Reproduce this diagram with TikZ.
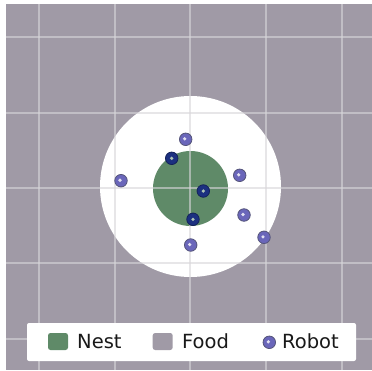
\documentclass[tikz,border=0pt]{standalone}
\usepackage{fontspec}
\setmainfont{DejaVu Sans}
\definecolor{foodc}{HTML}{A09AA6}
\definecolor{gridc}{HTML}{D8D6DA}
\definecolor{nestc}{HTML}{5F8A68}
\definecolor{robotc}{HTML}{6A66BA}
\definecolor{robotedge}{HTML}{55557A}
\definecolor{darkrobot}{HTML}{1C3080}
\tikzset{
  gridline/.style={gridc, line width=1.6pt, opacity=0.6},
  robot/.style={circle, fill=robotc, draw=robotedge, line width=0.8pt, minimum size=12.5pt, inner sep=0pt,
    path picture={\fill[white!80!robotc] ([shift={(-1pt,0.5pt)}]path picture bounding box.center) circle (1.8pt);}},
  darkbot/.style={circle, fill=darkrobot, draw=darkrobot!70!black, line width=0.8pt, minimum size=12.5pt, inner sep=0pt,
    path picture={\fill[white!50!nestc] (path picture bounding box.center) circle (1.8pt);}},
  patch/.style={rounded corners=2.5pt, minimum width=20pt, minimum height=17pt, inner sep=0pt},
  legtext/.style={anchor=base west, inner sep=0pt, font=\fontsize{19.5pt}{22pt}\selectfont, text=black!90}
}
\begin{document}
\begin{tikzpicture}[x=1pt,y=-1pt]
\useasboundingbox (0,0) rectangle (372,370);
\fill[white] (0,0) rectangle (372,370);
\fill[foodc] (6,4) rectangle (372,370);
\node[circle, fill=white, minimum size=181pt, inner sep=0pt] (arena) at (190.5,186.5) {};
\node[circle, fill=nestc, minimum size=75pt, inner sep=0pt] (nest) at (190.5,188.5) {};
\foreach \x in {39,115,190,266,342} \draw[gridline] (\x,4) -- (\x,370);
\foreach \y in {37,113,188,263,339} \draw[gridline] (6,\y) -- (372,\y);
\node[robot] (r1) at (185.7,139.3) {};
\node[darkbot] (r2) at (171.7,158.3) {};
\node[robot] (r3) at (121,180.7) {};
\node[robot] (r4) at (239.7,175.3) {};
\node[darkbot] (r5) at (203.3,191) {};
\node[darkbot] (r6) at (193,219.3) {};
\node[robot] (r7) at (244,215) {};
\node[robot] (r8) at (264,237.3) {};
\node[robot] (r9) at (190.7,245) {};
% legend
\node[fill=white, rounded corners=2pt, minimum width=329pt, minimum height=38pt, inner sep=0pt] (legend) at (191.5,342) {};
\node[patch, fill=nestc] (pnest) at (58,341.5) {};
\node[legtext] (tnest) at (77,348) {Nest};
\node[patch, fill=foodc] (pfood) at (162.7,341.5) {};
\node[legtext] (tfood) at (182,348) {Food};
\node[robot, minimum size=12.5pt] (probot) at (269.3,342.3) {};
\node[legtext] (trobot) at (282,348) {Robot};
\end{tikzpicture}
\end{document}
